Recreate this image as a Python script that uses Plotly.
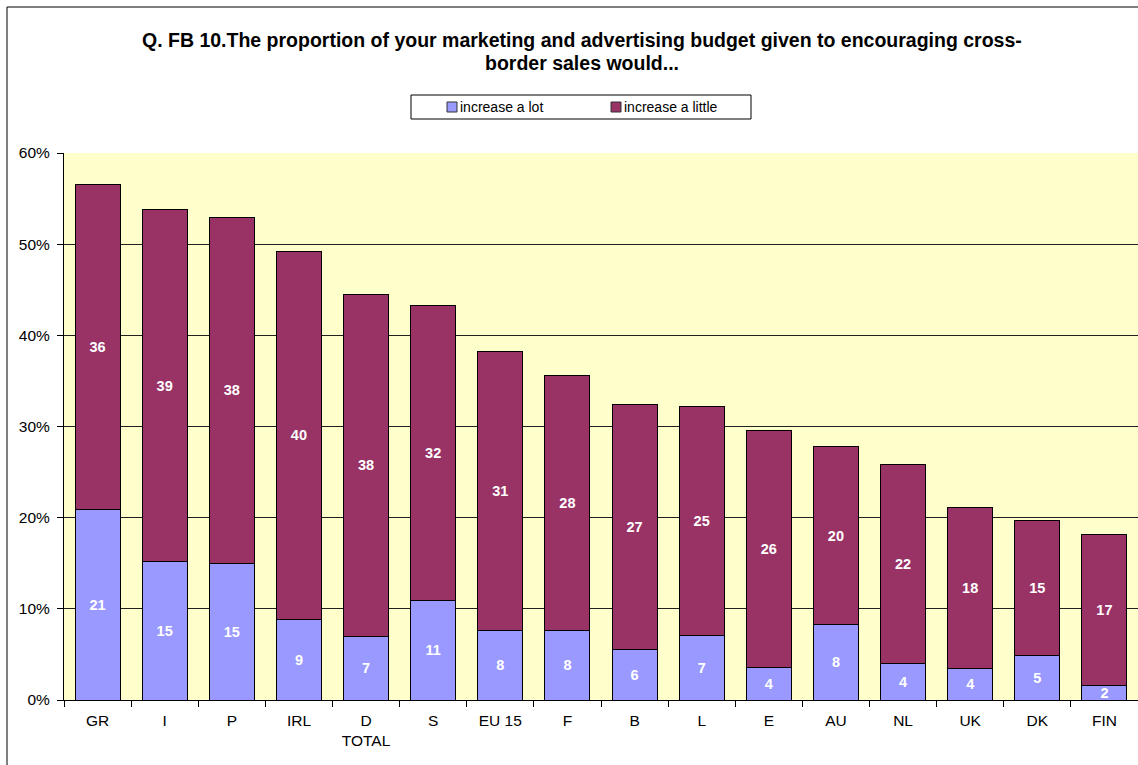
import plotly.graph_objects as go

# Countries (EU 15 shown as total)
countries = ["GR", "I", "P", "IRL", "D<br>TOTAL", "S", "EU 15", "F", "B", "L",
             "E", "AU", "NL", "UK", "DK", "FIN"]

# Shares of respondents, in percent
increase_a_lot = [20.85, 15.15, 15.0, 8.85, 6.95, 10.96, 7.6, 7.58, 5.58, 7.1,
                  3.6, 8.25, 4.0, 3.5, 4.86, 1.55]
increase_a_little = [35.75, 38.65, 37.9, 40.35, 37.55, 32.3, 30.68, 28.02, 26.82, 25.1,
                     26.0, 19.55, 21.8, 17.6, 14.84, 16.55]

series_names = ["increase a lot", "increase a little"]
series_colors = ["#9999FF", "#993366"]

y_ticks = [0, 10, 20, 30, 40, 50, 60]
y_tick_text = [f"{v}%" for v in y_ticks]

FONT = "Arial, Liberation Sans, sans-serif"
W, H = 1138, 765
L, R, T, B = 64, 0, 153, 65


def px_x(x):
    """pixel column -> paper x"""
    return (x - L) / (W - L - R)


def px_y(y):
    """pixel row -> paper y"""
    return (H - B - y) / (H - T - B)


fig = go.Figure()
for name, color, vals in zip(series_names, series_colors, [increase_a_lot, increase_a_little]):
    fig.add_trace(go.Bar(
        x=countries, y=vals, name=name,
        marker=dict(color=color, line=dict(color="#000000", width=1)),
        texttemplate="%{y:.0f}", textposition="inside", insidetextanchor="middle",
        textfont=dict(color="white", size=14.5, family=FONT, weight="bold"),
        textangle=0, showlegend=False,
    ))

fig.update_layout(
    width=W, height=H,
    barmode="stack", bargap=0.33,
    paper_bgcolor="white", plot_bgcolor="#FFFFCC",
    margin=dict(l=L, r=R, t=T, b=B),
    font=dict(family=FONT, size=15.5, color="black"),
    uniformtext=dict(minsize=14.5, mode="show"),
)

fig.update_yaxes(
    range=[0, 60], tickvals=y_ticks, ticktext=y_tick_text,
    showgrid=True, gridcolor="#202020", gridwidth=1,
    showline=True, linecolor="#000000", linewidth=1,
    ticks="outside", ticklen=6, tickcolor="#000000",
    zeroline=False, tickfont=dict(size=15.5), ticklabelstandoff=4,
)
fig.update_xaxes(
    showline=True, linecolor="#000000", linewidth=1,
    ticks="outside", ticklen=6, tickcolor="#000000", tickson="boundaries",
    tickfont=dict(size=15.5), tickangle=0, ticklabelstandoff=6,
)

# title, two centred lines
title_lines = [
    "Q. FB 10.The proportion of your marketing and advertising budget given to encouraging cross-",
    "border sales would...",
]
for line, yy in zip(title_lines, [40.5, 63.5]):
    fig.add_annotation(text=f"<b>{line}</b>", xref="paper", yref="paper",
                       x=px_x(582), y=px_y(yy), xanchor="center", yanchor="middle",
                       showarrow=False, font=dict(size=19.5, family=FONT, color="black"))

# legend box with colour keys
fig.add_shape(type="rect", xref="paper", yref="paper",
              x0=px_x(411), x1=px_x(751), y0=px_y(119), y1=px_y(95),
              line=dict(color="black", width=1), fillcolor="white")
for name, color, kx in zip(series_names, series_colors, [447, 611]):
    fig.add_shape(type="rect", xref="paper", yref="paper",
                  x0=px_x(kx), x1=px_x(kx + 10), y0=px_y(112), y1=px_y(102),
                  line=dict(color="#333333", width=1), fillcolor=color)
    fig.add_annotation(text=name, xref="paper", yref="paper",
                       x=px_x(kx + 11), y=px_y(107), xanchor="left", yanchor="middle",
                       showarrow=False, font=dict(size=14, family=FONT, color="black"))

# outer frame of the chart area
fig.add_shape(type="rect", xref="paper", yref="paper",
              x0=px_x(7), x1=px_x(W + 20), y0=px_y(H + 20), y1=px_y(7),
              line=dict(color="black", width=1), fillcolor="rgba(0,0,0,0)", layer="below")

fig.write_html("out.html")
